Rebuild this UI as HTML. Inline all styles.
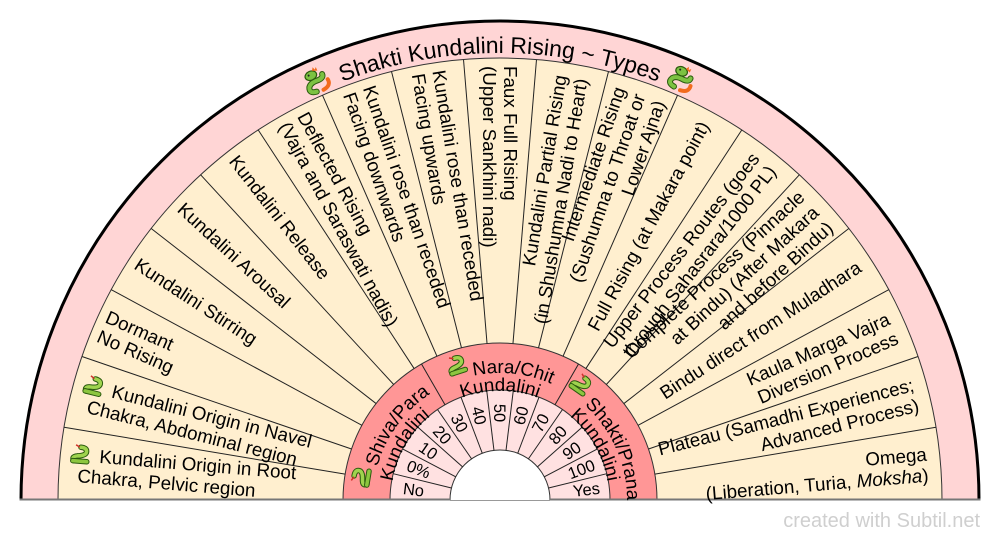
<!DOCTYPE html>
<html><head><meta charset="utf-8"><style>
html,body{margin:0;padding:0;background:#fff;width:1000px;height:540px;overflow:hidden}
svg{display:block}
text{font-family:"Liberation Sans",sans-serif;fill:#000}
.w{font-size:18.8px}
.p{font-size:16.5px}
.r{font-size:18.8px}
.t{font-size:23px}
</style></head><body>
<svg width="1000" height="540" viewBox="0 0 1000 540" xmlns="http://www.w3.org/2000/svg">
<defs>
<path id="tp" d="M53,500 A447,447 0 0 1 947,500"/>
<path id="a0" d="M390,563.5 A127,127 0 0 1 500,373"/>
<path id="a1" d="M390,436.5 A127,127 0 0 1 610,436.5"/>
<path id="a2" d="M500,373 A127,127 0 0 1 610,563.5"/>
<path id="b0" d="M405.6,554.5 A109,109 0 0 1 500,391"/>
<path id="b1" d="M405.6,445.5 A109,109 0 0 1 594.4,445.5"/>
<path id="b2" d="M500,391 A109,109 0 0 1 594.4,554.5"/>
</defs>

<!-- rings -->
<path d="M21,500 A479,479 0 0 1 979,500 Z" fill="#FFD5D5"/>
<path d="M58,500 A442,442 0 0 1 942,500 Z" fill="#FFEFCF" stroke="#333" stroke-width="1"/>
<path d="M343,500 A157,157 0 0 1 657,500 Z" fill="#FF9696" stroke="#333" stroke-width="1"/>
<path d="M390,500 A110,110 0 0 1 610,500 Z" fill="#FFE1E1" stroke="#333" stroke-width="1"/>
<path d="M450,500 A50,50 0 0 1 550,500 Z" fill="#fff"/>
<path d="M450,500 A50,50 0 0 1 550,500" fill="none" stroke="#333" stroke-width="1"/>
<path d="M21,500 A479,479 0 0 1 979,500" fill="none" stroke="#000" stroke-width="3"/>
<path d="M19.5,499.5 H450 M550,499.5 H980.5" stroke="#777" stroke-width="2"/>

<!-- wedge boundaries -->
<g transform="translate(500,500)" stroke="#222" stroke-width="1">
<line x1="-157" y1="0" x2="-442" y2="0" transform="rotate(9.4737)"/>
<line x1="-157" y1="0" x2="-442" y2="0" transform="rotate(18.9474)"/>
<line x1="-157" y1="0" x2="-442" y2="0" transform="rotate(28.4211)"/>
<line x1="-157" y1="0" x2="-442" y2="0" transform="rotate(37.8947)"/>
<line x1="-157" y1="0" x2="-442" y2="0" transform="rotate(47.3684)"/>
<line x1="-157" y1="0" x2="-442" y2="0" transform="rotate(56.8421)"/>
<line x1="-157" y1="0" x2="-442" y2="0" transform="rotate(66.3158)"/>
<line x1="-157" y1="0" x2="-442" y2="0" transform="rotate(75.7895)"/>
<line x1="-157" y1="0" x2="-442" y2="0" transform="rotate(85.2632)"/>
<line x1="-157" y1="0" x2="-442" y2="0" transform="rotate(94.7368)"/>
<line x1="-157" y1="0" x2="-442" y2="0" transform="rotate(104.2105)"/>
<line x1="-157" y1="0" x2="-442" y2="0" transform="rotate(113.6842)"/>
<line x1="-157" y1="0" x2="-442" y2="0" transform="rotate(123.1579)"/>
<line x1="-157" y1="0" x2="-442" y2="0" transform="rotate(132.6316)"/>
<line x1="-157" y1="0" x2="-442" y2="0" transform="rotate(142.1053)"/>
<line x1="-157" y1="0" x2="-442" y2="0" transform="rotate(151.5789)"/>
<line x1="-157" y1="0" x2="-442" y2="0" transform="rotate(161.0526)"/>
<line x1="-157" y1="0" x2="-442" y2="0" transform="rotate(170.5263)"/>
<!-- red ring boundaries -->
<line x1="-110" y1="0" x2="-157" y2="0" transform="rotate(60)"/>
<line x1="-110" y1="0" x2="-157" y2="0" transform="rotate(120)"/>
<!-- percent ring boundaries -->
<line x1="-50" y1="0" x2="-110" y2="0" transform="rotate(13.8462)"/>
<line x1="-50" y1="0" x2="-110" y2="0" transform="rotate(27.6923)"/>
<line x1="-50" y1="0" x2="-110" y2="0" transform="rotate(41.5385)"/>
<line x1="-50" y1="0" x2="-110" y2="0" transform="rotate(55.3846)"/>
<line x1="-50" y1="0" x2="-110" y2="0" transform="rotate(69.2308)"/>
<line x1="-50" y1="0" x2="-110" y2="0" transform="rotate(83.0769)"/>
<line x1="-50" y1="0" x2="-110" y2="0" transform="rotate(96.9231)"/>
<line x1="-50" y1="0" x2="-110" y2="0" transform="rotate(110.7692)"/>
<line x1="-50" y1="0" x2="-110" y2="0" transform="rotate(124.6154)"/>
<line x1="-50" y1="0" x2="-110" y2="0" transform="rotate(138.4615)"/>
<line x1="-50" y1="0" x2="-110" y2="0" transform="rotate(152.3077)"/>
<line x1="-50" y1="0" x2="-110" y2="0" transform="rotate(166.1538)"/>
</g>

<!-- title -->
<text class="t"><textPath href="#tp" startOffset="50%" text-anchor="middle">Shakti Kundalini Rising ~ Types</textPath></text>
<g transform="translate(316,80) rotate(-23.7)">
<path d="M-4,11 Q-12,10 -9,4 Q-6,0 2,1 Q8,1 8,-3" fill="none" stroke="#2b5a0e" stroke-width="6" stroke-linecap="round"/>
<path d="M-4,11 Q-12,10 -9,4 Q-6,0 2,1 Q8,1 8,-3" fill="none" stroke="#7cc242" stroke-width="4" stroke-linecap="round"/>
<path d="M3,12 Q12,11 11,4" fill="none" stroke="#f26b1d" stroke-width="4" stroke-linecap="round"/>
<ellipse cx="-3" cy="-6" rx="6" ry="4.5" fill="#7cc242" stroke="#2b5a0e" stroke-width="1.2"/>
<path d="M0,-10 l2,-3 l1,3 l2,-2 l0,4 Z" fill="#f26b1d"/>
<circle cx="-5" cy="-7" r="1" fill="#222"/>
</g>
<g transform="translate(682,78) rotate(23.3)">
<path d="M-4,11 Q-12,10 -9,4 Q-6,0 2,1 Q8,1 8,-3" fill="none" stroke="#2b5a0e" stroke-width="6" stroke-linecap="round"/>
<path d="M-4,11 Q-12,10 -9,4 Q-6,0 2,1 Q8,1 8,-3" fill="none" stroke="#7cc242" stroke-width="4" stroke-linecap="round"/>
<path d="M3,12 Q12,11 11,4" fill="none" stroke="#f26b1d" stroke-width="4" stroke-linecap="round"/>
<ellipse cx="-3" cy="-6" rx="6" ry="4.5" fill="#7cc242" stroke="#2b5a0e" stroke-width="1.2"/>
<path d="M0,-10 l2,-3 l1,3 l2,-2 l0,4 Z" fill="#f26b1d"/>
<circle cx="-5" cy="-7" r="1" fill="#222"/>
</g>

<!-- left wedges -->
<g transform="translate(500,500) rotate(4.737)">
<text class="w"><tspan x="-434" y="-3.9">&#160;&#160;&#160;&#160;&#160;&#160;Kundalini Origin in Root</tspan><tspan x="-423" y="17.1">Chakra, Pelvic region</tspan></text>
<g transform="translate(-422,-11)">
<path d="M-6,7 Q-9,3 -3,2 Q6,1 6,-3 Q6,-7 0,-7" fill="none" stroke="#2b5a0e" stroke-width="5.5" stroke-linecap="round"/>
<path d="M-6,7 Q-9,3 -3,2 Q6,1 6,-3 Q6,-7 0,-7" fill="none" stroke="#9fd34e" stroke-width="3.5" stroke-linecap="round"/>
<path d="M-7,7 L7,7" stroke="#2b5a0e" stroke-width="5.5" stroke-linecap="round"/>
<path d="M-7,7 L7,7" stroke="#8cc63f" stroke-width="3.5" stroke-linecap="round"/>
<path d="M-1,-7 l-4,-2" stroke="#d0302a" stroke-width="1.5"/>
</g>
</g>
<g transform="translate(500,500) rotate(14.211)">
<text class="w"><tspan x="-434" y="-3.9">&#160;&#160;&#160;&#160;&#160;&#160;Kundalini Origin in Navel</tspan><tspan x="-423" y="17.1">Chakra, Abdominal region</tspan></text>
<g transform="translate(-422,-11)">
<path d="M-6,7 Q-9,3 -3,2 Q6,1 6,-3 Q6,-7 0,-7" fill="none" stroke="#2b5a0e" stroke-width="5.5" stroke-linecap="round"/>
<path d="M-6,7 Q-9,3 -3,2 Q6,1 6,-3 Q6,-7 0,-7" fill="none" stroke="#9fd34e" stroke-width="3.5" stroke-linecap="round"/>
<path d="M-7,7 L7,7" stroke="#2b5a0e" stroke-width="5.5" stroke-linecap="round"/>
<path d="M-7,7 L7,7" stroke="#8cc63f" stroke-width="3.5" stroke-linecap="round"/>
<path d="M-1,-7 l-4,-2" stroke="#d0302a" stroke-width="1.5"/>
</g>
</g>
<text class="w" transform="translate(500,500) rotate(23.684)"><tspan x="-434" y="-3.9">Dormant</tspan><tspan x="-434" y="17.1">No Rising</tspan></text>
<text class="w" transform="translate(500,500) rotate(33.158)"><tspan x="-434" y="6.6">Kundalini Stirring</tspan></text>
<text class="w" transform="translate(500,500) rotate(42.632)"><tspan x="-434" y="6.6">Kundalini Arousal</tspan></text>
<text class="w" transform="translate(500,500) rotate(52.105)"><tspan x="-434" y="6.6">Kundalini Release</tspan></text>
<text class="w" transform="translate(500,500) rotate(61.579)"><tspan x="-434" y="-3.9">Deflected Rising</tspan><tspan x="-434" y="17.1">(Vajra and Saraswati nadis)</tspan></text>
<text class="w" transform="translate(500,500) rotate(71.053)"><tspan x="-434" y="-3.9">Kundalini rose than receded</tspan><tspan x="-434" y="17.1">Facing downwards</tspan></text>
<text class="w" transform="translate(500,500) rotate(80.526)"><tspan x="-434" y="-3.9">Kundalini rose than receded</tspan><tspan x="-434" y="17.1">Facing upwards</tspan></text>
<text class="w" transform="translate(500,500) rotate(90)"><tspan x="-434" y="-3.9">Faux Full Rising</tspan><tspan x="-434" y="17.1">(Upper Sankhini nadi)</tspan></text>

<!-- right wedges -->
<g text-anchor="end">
<text class="w" transform="translate(500,500) rotate(-80.526)"><tspan x="429" y="-3.9">Kundalini Partial Rising</tspan><tspan x="429" y="17.1">(in Shushumna Nadi to Heart)</tspan></text>
<text class="w" transform="translate(500,500) rotate(-71.053)"><tspan x="429" y="-14.4">Intermediate Rising</tspan><tspan x="429" y="6.6">(Sushumna to Throat or</tspan><tspan x="429" y="27.6">Lower Ajna)</tspan></text>
<text class="w" transform="translate(500,500) rotate(-61.579)"><tspan x="429" y="6.6">Full Rising (at Makara point)</tspan></text>
<text class="w" transform="translate(500,500) rotate(-52.105)"><tspan x="429" y="-3.9">Upper Process Routes (goes</tspan><tspan x="429" y="17.1">through Sahasrara/1000 PL)</tspan></text>
<text class="w" transform="translate(500,500) rotate(-42.632)"><tspan x="429" y="-14.4">Complete Process (Pinnacle</tspan><tspan x="429" y="6.6">at Bindu) (After Makara</tspan><tspan x="429" y="27.6">and before Bindu)</tspan></text>
<text class="w" transform="translate(500,500) rotate(-33.158)"><tspan x="429" y="6.6">Bindu direct from Muladhara</tspan></text>
<text class="w" transform="translate(500,500) rotate(-23.684)"><tspan x="429" y="-3.9">Kaula Marga Vajra</tspan><tspan x="429" y="17.1">Diversion Process</tspan></text>
<text class="w" transform="translate(500,500) rotate(-14.211)"><tspan x="429" y="-3.9">Plateau (Samadhi Experiences;</tspan><tspan x="429" y="17.1">Advanced Process)</tspan></text>
<text class="w" transform="translate(500,500) rotate(-4.737)"><tspan x="429" y="-3.9">Omega</tspan><tspan x="429" y="17.1">(Liberation, Turia, <tspan font-style="italic">Moksha</tspan>)</tspan></text>
</g>

<!-- red ring labels -->
<text class="r"><textPath href="#a0" startOffset="50%" text-anchor="middle">&#160;&#160;&#160;&#160;&#160;Shiva/Para</textPath></text>
<text class="r"><textPath href="#b0" startOffset="50%" text-anchor="middle">Kundalini</textPath></text>
<text class="r"><textPath href="#a1" startOffset="50%" text-anchor="middle">&#160;&#160;&#160;&#160;&#160;Nara/Chit</textPath></text>
<text class="r"><textPath href="#b1" startOffset="50%" text-anchor="middle">Kundalini</textPath></text>
<text class="r"><textPath href="#a2" startOffset="50%" text-anchor="middle">&#160;&#160;&#160;&#160;&#160;Shakti/Prana</textPath></text>
<text class="r"><textPath href="#b2" startOffset="50%" text-anchor="middle">Kundalini</textPath></text>

<g transform="translate(361,477) rotate(-80.7)">
<path d="M-6,7 Q-9,3 -3,2 Q6,1 6,-3 Q6,-7 0,-7" fill="none" stroke="#2b5a0e" stroke-width="5.5" stroke-linecap="round"/>
<path d="M-6,7 Q-9,3 -3,2 Q6,1 6,-3 Q6,-7 0,-7" fill="none" stroke="#9fd34e" stroke-width="3.5" stroke-linecap="round"/>
<path d="M-7,7 L7,7" stroke="#2b5a0e" stroke-width="5.5" stroke-linecap="round"/>
<path d="M-7,7 L7,7" stroke="#8cc63f" stroke-width="3.5" stroke-linecap="round"/>
<path d="M-1,-7 l-4,-2" stroke="#d0302a" stroke-width="1.5"/>
</g>
<g transform="translate(456.5,365) rotate(-17.9)">
<path d="M-6,7 Q-9,3 -3,2 Q6,1 6,-3 Q6,-7 0,-7" fill="none" stroke="#2b5a0e" stroke-width="5.5" stroke-linecap="round"/>
<path d="M-6,7 Q-9,3 -3,2 Q6,1 6,-3 Q6,-7 0,-7" fill="none" stroke="#9fd34e" stroke-width="3.5" stroke-linecap="round"/>
<path d="M-7,7 L7,7" stroke="#2b5a0e" stroke-width="5.5" stroke-linecap="round"/>
<path d="M-7,7 L7,7" stroke="#8cc63f" stroke-width="3.5" stroke-linecap="round"/>
<path d="M-1,-7 l-4,-2" stroke="#d0302a" stroke-width="1.5"/>
</g>
<g transform="translate(581,384) rotate(35)">
<path d="M-6,7 Q-9,3 -3,2 Q6,1 6,-3 Q6,-7 0,-7" fill="none" stroke="#2b5a0e" stroke-width="5.5" stroke-linecap="round"/>
<path d="M-6,7 Q-9,3 -3,2 Q6,1 6,-3 Q6,-7 0,-7" fill="none" stroke="#9fd34e" stroke-width="3.5" stroke-linecap="round"/>
<path d="M-7,7 L7,7" stroke="#2b5a0e" stroke-width="5.5" stroke-linecap="round"/>
<path d="M-7,7 L7,7" stroke="#8cc63f" stroke-width="3.5" stroke-linecap="round"/>
<path d="M-1,-7 l-4,-2" stroke="#d0302a" stroke-width="1.5"/>
</g>

<!-- percent labels -->
<g text-anchor="middle">
<text class="p" transform="translate(500,500) rotate(6.923)" x="-87" y="5.8">No</text>
<text class="p" transform="translate(500,500) rotate(20.769)" x="-87" y="5.8">0%</text>
<text class="p" transform="translate(500,500) rotate(34.615)" x="-87" y="5.8">10</text>
<text class="p" transform="translate(500,500) rotate(48.462)" x="-87" y="5.8">20</text>
<text class="p" transform="translate(500,500) rotate(62.308)" x="-87" y="5.8">30</text>
<text class="p" transform="translate(500,500) rotate(76.154)" x="-87" y="5.8">40</text>
<text class="p" transform="translate(500,500) rotate(90)" x="-87" y="5.8">50</text>
<text class="p" transform="translate(500,500) rotate(-76.154)" x="87" y="5.8">60</text>
<text class="p" transform="translate(500,500) rotate(-62.308)" x="87" y="5.8">70</text>
<text class="p" transform="translate(500,500) rotate(-48.462)" x="87" y="5.8">80</text>
<text class="p" transform="translate(500,500) rotate(-34.615)" x="87" y="5.8">90</text>
<text class="p" transform="translate(500,500) rotate(-20.769)" x="87" y="5.8">100</text>
<text class="p" transform="translate(500,500) rotate(-6.923)" x="87" y="5.8">Yes</text>
</g>

<!-- watermark -->
<text x="980" y="527" text-anchor="end" style="font-size:20px;fill:#cfcfcf">created with Subtil.net</text>
</svg>
</body></html>
